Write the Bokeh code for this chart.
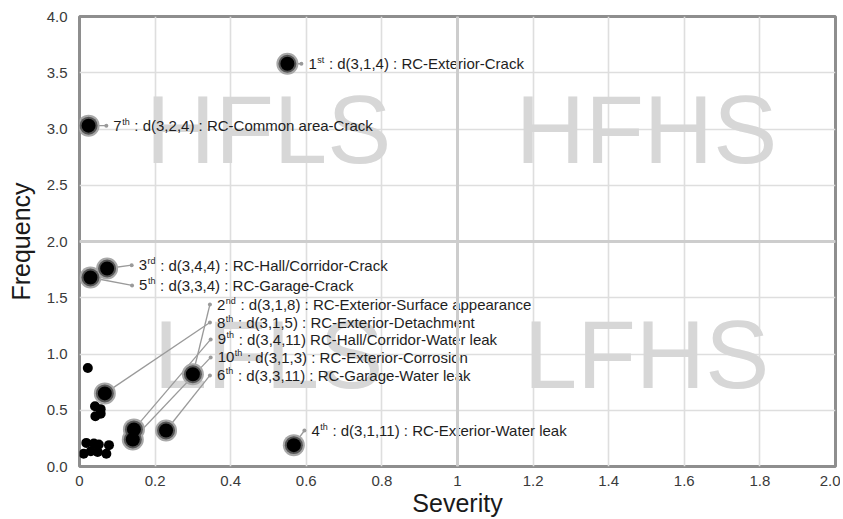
from bokeh.plotting import figure
from bokeh.models import FixedTicker, Span, ColumnDataSource
from bokeh.core.properties import value
from bokeh.embed import file_html
from bokeh.resources import INLINE

# ---------------- data ----------------
# top-10 ranked defects
rank_num = ["1", "2", "3", "4", "5", "6", "7", "8", "9", "10"]
rank_suffix = ["st", "nd", "rd", "th", "th", "th", "th", "th", "th", "th"]
rank_text = [
    ": d(3,1,4) : RC-Exterior-Crack",
    ": d(3,1,8) : RC-Exterior-Surface appearance",
    ": d(3,4,4) : RC-Hall/Corridor-Crack",
    ": d(3,1,11) : RC-Exterior-Water leak",
    ": d(3,3,4) : RC-Garage-Crack",
    ": d(3,3,11) : RC-Garage-Water leak",
    ": d(3,2,4) : RC-Common area-Crack",
    ": d(3,1,5) : RC-Exterior-Detachment",
    ": d(3,4,11) RC-Hall/Corridor-Water leak",
    ": d(3,1,3) : RC-Exterior-Corrosion",
]
top_severity = [0.550, 0.300, 0.073, 0.567, 0.029, 0.229, 0.024, 0.067, 0.144, 0.141]
top_frequency = [3.58, 0.82, 1.76, 0.19, 1.68, 0.32, 3.03, 0.65, 0.33, 0.24]
label_severity = [0.587, 0.345, 0.138, 0.595, 0.139, 0.345, 0.071, 0.345, 0.347, 0.347]
label_frequency = [3.58, 1.44, 1.79, 0.32, 1.61, 0.81, 3.03, 1.28, 1.13, 0.97]

# remaining defects
other_severity = [0.022, 0.041, 0.056, 0.042, 0.056,
                  0.018, 0.038, 0.051, 0.078, 0.011, 0.030, 0.048, 0.071]
other_frequency = [0.875, 0.535, 0.51, 0.446, 0.47,
                   0.21, 0.204, 0.195, 0.19, 0.113, 0.136, 0.13, 0.113]

# quadrant watermarks
quad_names = ["HFLS", "HFHS", "LFLS", "LFHS"]
quad_severity = [0.5, 1.5, 0.5, 1.5]
quad_frequency = [3.0, 3.0, 1.0, 1.0]

x_ticks = [0, 0.2, 0.4, 0.6, 0.8, 1, 1.2, 1.4, 1.6, 1.8, 2.0]
x_tick_labels = ["0", "0.2", "0.4", "0.6", "0.8", "1", "1.2", "1.4", "1.6", "1.8", "2.0"]
y_ticks = [0, 0.5, 1.0, 1.5, 2.0, 2.5, 3.0, 3.5, 4.0]
y_tick_labels = ["0.0", "0.5", "1.0", "1.5", "2.0", "2.5", "3.0", "3.5", "4.0"]

FONT = "Liberation Sans"

p = figure(width=840, height=519, x_range=(0, 2), y_range=(0, 4),
           output_backend="svg", toolbar_location=None,
           min_border_left=79, min_border_right=5, min_border_top=16, min_border_bottom=52)
p.background_fill_color = "white"
p.border_fill_color = "white"
p.outline_line_color = "#8e8e8e"
p.outline_line_width = 3

for ax, ticks, labels in ((p.xaxis[0], x_ticks, x_tick_labels), (p.yaxis[0], y_ticks, y_tick_labels)):
    ax.ticker = FixedTicker(ticks=ticks)
    ax.major_label_overrides = {t: l for t, l in zip(ticks, labels)}
    ax.axis_line_color = None
    ax.major_tick_line_color = None
    ax.minor_tick_line_color = None
    ax.major_label_text_font = FONT
    ax.major_label_text_font_size = "15px"
    ax.major_label_text_color = "#3a3a3a"
    ax.axis_label_text_font = FONT
    ax.axis_label_text_font_size = "25px"
    ax.axis_label_text_font_style = "normal"
    ax.axis_label_text_color = "#1a1a1a"

p.xaxis.axis_label = "Severity"
p.yaxis.axis_label = "Frequency"
p.xaxis.major_label_standoff = 3
p.xaxis.axis_label_standoff = 0
p.yaxis.major_label_standoff = 6
p.yaxis.axis_label_standoff = 9

p.xgrid.ticker = FixedTicker(ticks=x_ticks)
p.ygrid.ticker = FixedTicker(ticks=y_ticks)
for g in (p.xgrid[0], p.ygrid[0]):
    g.grid_line_color = "#dedede"
    g.grid_line_width = 1.6

# quadrant dividers
p.add_layout(Span(location=1.0, dimension="height", line_color="#cdcdcd", line_width=3))
p.add_layout(Span(location=2.0, dimension="width", line_color="#cdcdcd", line_width=3))

# watermarks
p.text(x=quad_severity, y=quad_frequency, text=quad_names,
       text_font=value(FONT), text_font_size="96px", text_color="#d7d7d7",
       text_align="center", text_baseline="middle")

# connectors
p.segment(x0=top_severity, y0=top_frequency, x1=label_severity, y1=label_frequency,
          line_color="#9a9a9a", line_width=1.3)
p.scatter(x=label_severity, y=label_frequency, size=4, fill_color="#9a9a9a", line_color=None)

# other points
p.scatter(x=other_severity, y=other_frequency, size=10, fill_color="black", line_color=None)

# top-10 points with halo
p.scatter(x=top_severity, y=top_frequency, size=22, fill_color="#a8a8a8", line_color=None)
p.scatter(x=top_severity, y=top_frequency, size=18, fill_color="#555555", line_color=None)
p.scatter(x=top_severity, y=top_frequency, size=14, fill_color="black", line_color=None)

# labels with superscript ordinal suffix
char_w = {"s": 0.5, "t": 0.278, "h": 0.556, "n": 0.556, "d": 0.556, "r": 0.333}
MAIN = 15
SUP = 9
gap = 7
space_w = 0.278 * MAIN
num_off, suf_off, rest_off = [], [], []
for n, s in zip(rank_num, rank_suffix):
    nw = len(n) * 0.556 * MAIN
    sw = sum(char_w[c] for c in s) * SUP
    num_off.append(gap)
    suf_off.append(gap + nw + 0.5)
    rest_off.append(gap + nw + sw + 1 + space_w)

src = ColumnDataSource(dict(x=label_severity, y=label_frequency, num=rank_num, suf=rank_suffix,
                            rest=rank_text, no=num_off, so=suf_off, ro=rest_off))
p.text(x="x", y="y", text="num", x_offset="no", source=src, text_font=value(FONT),
       text_font_size=f"{MAIN}px", text_color="#1e1e1e", text_baseline="middle")
p.text(x="x", y="y", text="suf", x_offset="so", y_offset=-4, source=src, text_font=value(FONT),
       text_font_size=f"{SUP}px", text_color="#1e1e1e", text_baseline="middle")
p.text(x="x", y="y", text="rest", x_offset="ro", source=src, text_font=value(FONT),
       text_font_size=f"{MAIN}px", text_color="#1e1e1e", text_baseline="middle")

open("out.html", "w").write(file_html(p, INLINE))
